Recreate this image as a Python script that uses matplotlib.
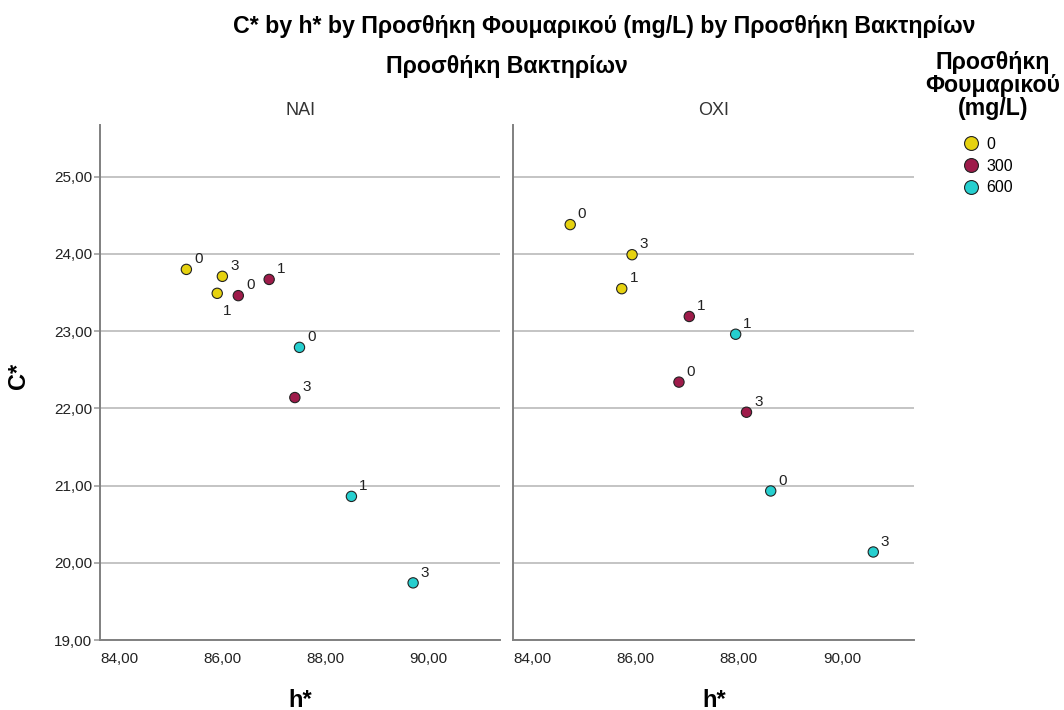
import numpy as np
import matplotlib as mpl
mpl.use('Agg')
import matplotlib.pyplot as plt
from matplotlib.lines import Line2D

plt.rcParams['font.family'] = ['Liberation Sans', 'DejaVu Sans']

# fumaric acid levels and their colours
fum_levels = [0, 300, 600]
fum_colors = ["#E6D20F", "#9E1B4A", "#26CFCF"]

# panel NAI
nai_h = [85.30, 86.00, 85.90, 86.31, 86.91, 87.41, 87.50, 88.51, 89.71]
nai_c = [23.80, 23.71, 23.49, 23.46, 23.67, 22.14, 22.79, 20.86, 19.74]
nai_fum = [0, 0, 0, 300, 300, 300, 600, 600, 600]
nai_day = ["0", "3", "1", "0", "1", "3", "0", "1", "3"]

# panel OXI
oxi_h = [84.73, 85.73, 85.93, 86.84, 87.04, 88.15, 88.62, 87.94, 90.61]
oxi_c = [24.38, 23.55, 23.99, 22.34, 23.19, 21.95, 20.93, 22.96, 20.14]
oxi_fum = [0, 0, 0, 300, 300, 300, 600, 600, 600]
oxi_day = ["0", "1", "3", "0", "1", "3", "0", "1", "3"]

x_ticks = [84, 86, 88, 90]
y_ticks = [19, 20, 21, 22, 23, 24, 25]

fig = plt.figure(figsize=(10.64, 7.10), dpi=100)
W, H = 1064, 710

def px_axes(x0, y0, x1, y1):
    return fig.add_axes([x0 / W, 1 - y1 / H, (x1 - x0) / W, (y1 - y0) / H])

def comma(v):
    return ("%.2f" % v).replace(".", ",")

ax1 = px_axes(100, 125, 500, 640)
ax2 = px_axes(513, 125, 914, 640)

panels = [(ax1, "NAI", nai_h, nai_c, nai_fum, nai_day),
          (ax2, "OXI", oxi_h, oxi_c, oxi_fum, oxi_day)]

for ax, name, h, c, fum, day in panels:
    cols = [fum_colors[fum_levels.index(f)] for f in fum]
    ax.scatter(h, c, s=55, c=cols, edgecolors="#222222", linewidths=0.8, zorder=3)
    for i in range(len(h)):
        # one label in NAI sits below the point
        if name == "NAI" and day[i] == "1" and fum[i] == 0:
            off = (4, -15.6)
        else:
            off = (5.5, 4.5)
        ax.annotate(day[i], (h[i], c[i]), xytext=off, textcoords="offset points",
                    fontsize=11, color="#222222", va="baseline")
    ax.set_xlim(83.62, 91.4)
    ax.set_ylim(19, 25.67)
    ax.set_xticks(x_ticks)
    ax.set_xticklabels([comma(v) for v in x_ticks])
    ax.set_yticks(y_ticks)
    ax.yaxis.grid(True, color="#c4c4c4", linewidth=1.4)
    ax.set_axisbelow(True)
    for s in ["top", "right"]:
        ax.spines[s].set_visible(False)
    for s in ["left", "bottom"]:
        ax.spines[s].set_color("#808080")
        ax.spines[s].set_linewidth(1.4)
    ax.tick_params(axis="x", length=0, pad=8.5, labelsize=11, labelcolor="#222222")
    ax.tick_params(axis="y", length=4.5, width=1.2, color="#a0a0a0", pad=1,
                   labelsize=11, labelcolor="#222222")

ax1.set_yticklabels([comma(v) for v in y_ticks])
ax2.tick_params(axis="y", length=0, labelleft=False)

# panel headers and axis titles
fig.text(301 / W, 1 - 115 / H, "NAI", fontsize=13, color="#333333",
         ha="center", va="baseline")
fig.text(714 / W, 1 - 115 / H, "OXI", fontsize=13, color="#333333",
         ha="center", va="baseline")
fig.text(300 / W, 1 - 707 / H, "h*", fontsize=17, fontweight="bold",
         ha="center", va="baseline")
fig.text(714 / W, 1 - 707 / H, "h*", fontsize=17, fontweight="bold",
         ha="center", va="baseline")
fig.text(19 / W, 1 - 376 / H, "C*", rotation=90, fontsize=17, fontweight="bold",
         ha="center", va="center")

fig.text(604 / W, 1 - 33 / H, "C* by h* by Προσθήκη Φουμαρικού (mg/L) by Προσθήκη Βακτηρίων",
         fontsize=16.7, fontweight="bold", ha="center", va="baseline")
fig.text(507 / W, 1 - 73 / H, "Προσθήκη Βακτηρίων", fontsize=16.7, fontweight="bold",
         ha="center", va="baseline")

# legend
fig.text(993 / W, 1 - 115 / H, "Προσθήκη\nΦουμαρικού\n(mg/L)", fontsize=16.7,
         fontweight="bold", ha="center", va="baseline", multialignment="center",
         linespacing=1.0)
handles = [Line2D([], [], marker="o", linestyle="", markersize=10,
                  markerfacecolor=col, markeredgecolor="#222222", markeredgewidth=0.8)
           for col in fum_colors]
leg = fig.legend(handles, [str(v) for v in fum_levels], loc="upper left",
                 bbox_to_anchor=(963 / W, 1 - 137 / H), frameon=False,
                 fontsize=11.5, handletextpad=0.45, handlelength=1.0,
                 labelspacing=0.42, borderpad=0, borderaxespad=0)

fig.savefig("out.png", dpi=100)
